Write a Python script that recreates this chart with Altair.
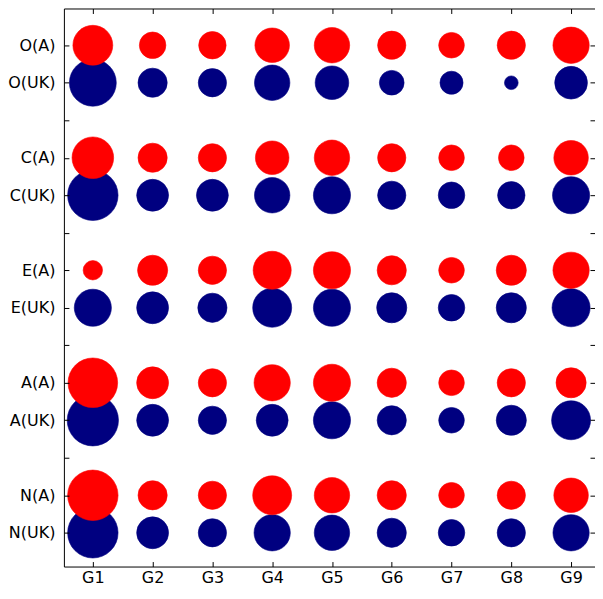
import altair as alt
import pandas as pd

groups = ["G1", "G2", "G3", "G4", "G5", "G6", "G7", "G8", "G9"]
traits = ["O", "C", "E", "A", "N"]

# bubble values (proportional to marker area)
vals_A = {
    "O": [203, 90, 96, 152, 160, 102, 84, 102, 168],
    "C": [221, 109, 102, 144, 160, 102, 84, 84, 152],
    "E": [48, 116, 102, 185, 176, 109, 84, 116, 168],
    "A": [314, 130, 102, 168, 176, 109, 84, 102, 116],
    "N": [325, 109, 102, 194, 160, 109, 84, 102, 152],
}
vals_UK = {
    "O": [281, 109, 102, 160, 144, 78, 68, 24, 137],
    "C": [325, 130, 130, 160, 176, 102, 90, 96, 176],
    "E": [176, 130, 109, 194, 176, 116, 90, 116, 185],
    "A": [336, 130, 102, 130, 176, 109, 84, 116, 194],
    "N": [325, 130, 102, 168, 160, 109, 90, 102, 168],
}

row_labels = []
for t in traits:
    row_labels += [f"{t}(A)", f"{t}(UK)", ""]
row_labels = row_labels[:-1]

rows = []
for i, t in enumerate(traits):
    for j, g in enumerate(groups):
        rows.append({"g": j + 1, "row": 3 * i, "grp": "A", "v": vals_A[t][j]})
        rows.append({"g": j + 1, "row": 3 * i + 1, "grp": "UK", "v": vals_UK[t][j]})
df = pd.DataFrame(rows)

FONT = "DejaVu Sans"
FS = 16
label_arr = "[" + ",".join(f"'{s}'" for s in row_labels) + "]"

xscale = alt.Scale(domain=[0.516, 9.40], nice=False, zero=False)
yscale = alt.Scale(domain=[-0.98, 13.9], nice=False, zero=False, reverse=True)
sscale = alt.Scale(type="linear", domain=[0, 400], range=[0, 3141.6], zero=True)

tick_axis = dict(grid=False, domain=False, title=None, tickSize=5, tickWidth=1,
                 tickColor="black", labelFont=FONT, labelFontSize=FS,
                 labelColor="black", offset=-5, zindex=1)
frame_axis = dict(grid=False, domain=True, domainColor="black", domainWidth=1,
                  ticks=False, labels=False, title=None, offset=0, zindex=1)

x_bottom = alt.Axis(orient="bottom", values=list(range(1, 10)),
                    labelExpr="'G' + datum.value", labelPadding=3,
                    labelFlush=False, **tick_axis)
x_top = alt.Axis(orient="top", values=list(range(1, 10)), labels=False, **tick_axis)
y_left = alt.Axis(orient="left", values=list(range(0, 14)),
                  labelExpr=label_arr + "[datum.value]", labelPadding=9,
                  labelFlush=False, **tick_axis)
y_right = alt.Axis(orient="right", values=list(range(0, 14)), labels=False, **tick_axis)

blue = alt.Chart(df).transform_filter(alt.datum.grp == "UK").mark_circle(
    color="#000080", opacity=1, stroke="#000080", strokeWidth=0.6
).encode(
    x=alt.X("g:Q", scale=xscale, axis=x_bottom),
    y=alt.Y("row:Q", scale=yscale, axis=y_left),
    size=alt.Size("v:Q", scale=sscale, legend=None),
)

red = alt.Chart(df).transform_filter(alt.datum.grp == "A").mark_circle(
    color="#FF0000", opacity=1, stroke="#FF0000", strokeWidth=0.6
).encode(
    x=alt.X("g:Q", scale=xscale, axis=x_top),
    y=alt.Y("row:Q", scale=yscale, axis=y_right),
    size=alt.Size("v:Q", scale=sscale, legend=None),
)

frame_bl = alt.Chart(df).mark_point(opacity=0).encode(
    x=alt.X("g:Q", scale=xscale, axis=alt.Axis(orient="bottom", **frame_axis)),
    y=alt.Y("row:Q", scale=yscale, axis=alt.Axis(orient="left", **frame_axis)),
)
frame_t = alt.Chart(df).mark_point(opacity=0).encode(
    x=alt.X("g:Q", scale=xscale, axis=alt.Axis(orient="top", **frame_axis)),
    y=alt.Y("row:Q", scale=yscale, axis=None),
)

chart = alt.layer(blue, red, frame_bl, frame_t).resolve_axis(
    x="independent", y="independent"
).properties(
    width=532, height=559,
    background="white",
    autosize=alt.AutoSizeParams(type="none"),
    padding={"left": 56, "top": 0, "right": 0, "bottom": 19},
).configure_view(stroke="transparent", strokeWidth=0)

chart.save("out.html", embed_options={"renderer": "svg", "actions": False})
